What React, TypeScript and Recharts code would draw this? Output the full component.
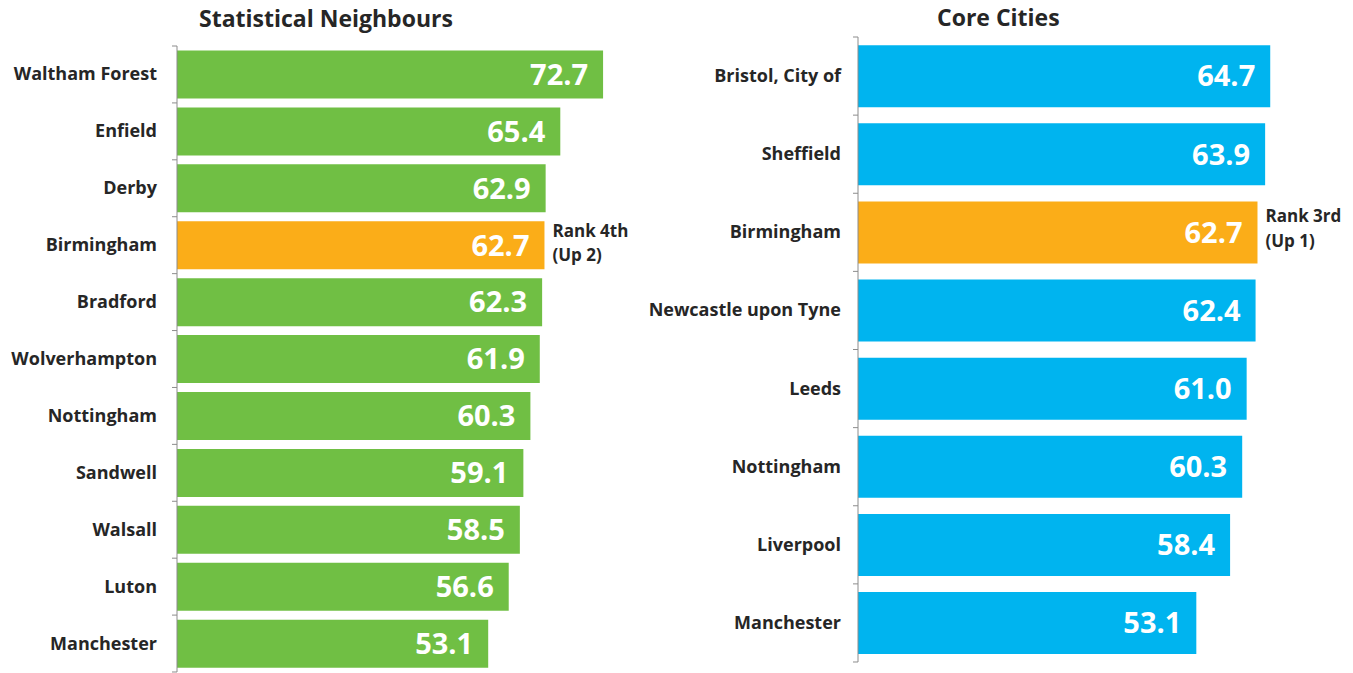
import { BarChart, Bar, XAxis, YAxis, Cell, LabelList } from "recharts";

const neighbourNames = [
  "Waltham Forest",
  "Enfield",
  "Derby",
  "Birmingham",
  "Bradford",
  "Wolverhampton",
  "Nottingham",
  "Sandwell",
  "Walsall",
  "Luton",
  "Manchester",
];
const neighbourValues = [72.7, 65.4, 62.9, 62.7, 62.3, 61.9, 60.3, 59.1, 58.5, 56.6, 53.1];

const coreNames = [
  "Bristol, City of",
  "Sheffield",
  "Birmingham",
  "Newcastle upon Tyne",
  "Leeds",
  "Nottingham",
  "Liverpool",
  "Manchester",
];
const coreValues = [64.7, 63.9, 62.7, 62.4, 61.0, 60.3, 58.4, 53.1];

const highlight = "Birmingham";
const neighbourNote = ["Rank 4th", "(Up 2)"];
const coreNote = ["Rank 3rd", "(Up 1)"];

const GREEN = "#70bf44";
const BLUE = "#00b4ef";
const ORANGE = "#fbad18";
const FONT = "'Open Sans', sans-serif";

const neighbourData = neighbourNames.map((name, i) => ({ name, value: neighbourValues[i] }));
const coreData = coreNames.map((name, i) => ({ name, value: coreValues[i] }));

const makeTick = (band: number, gap: number, count: number) => (props: any) => {
  const { x, y, payload, index } = props;
  const axisX = x + gap;
  return (
    <g>
      <line x1={axisX - 5} x2={axisX} y1={y - band / 2} y2={y - band / 2} stroke="#8c8c8c" />
      {index === count - 1 && (
        <line x1={axisX - 5} x2={axisX} y1={y + band / 2} y2={y + band / 2} stroke="#8c8c8c" />
      )}
      <text x={x} y={y} dy={6} textAnchor="end" fontFamily={FONT} fontWeight={700} fontSize={18} fill="#262626">
        {payload.value}
      </text>
    </g>
  );
};

// two-line rank note to the right of the highlighted bar
const makeNote = (note: string[], dy: number, lineGap: number, data: any[]) => (props: any) => {
  const { x, y, width, height, index } = props;
  if (data[index].name !== highlight) return null;
  const tx = x + width + 8;
  return (
    <text x={tx} y={y + height / 2 + dy} fontFamily={FONT} fontWeight={700} fontSize={17} fill="#262626">
      <tspan x={tx}>{note[0]}</tspan>
      <tspan x={tx} dy={lineGap}>{note[1]}</tspan>
    </text>
  );
};

const valueLabel = {
  position: "insideRight" as const,
  offset: 15,
  fill: "#fff",
  fontSize: 29,
  fontWeight: 700,
  fontFamily: FONT,
};

export default function App() {
  return (
    <div style={{ position: "absolute", left: 0, top: 0, width: 1353, height: 673, background: "#fff", overflow: "hidden" }}>
      <svg width={1353} height={40} style={{ position: "absolute", left: 0, top: 0 }}>
        <text x={199} y={27} fontFamily={FONT} fontWeight={700} fontSize={23} fill="#262626">
          Statistical Neighbours
        </text>
        <text x={937} y={26} fontFamily={FONT} fontWeight={700} fontSize={23} fill="#262626">
          Core Cities
        </text>
      </svg>

      <div style={{ position: "absolute", left: 0, top: 0 }}>
        <BarChart
          width={640}
          height={673}
          layout="vertical"
          data={neighbourData}
          margin={{ top: 46, right: 0, bottom: 1, left: 0 }}
          barCategoryGap="8%"
        >
          <XAxis type="number" domain={[0, 79]} hide />
          <YAxis
            type="category"
            dataKey="name"
            width={177}
            tickLine={false}
            tickMargin={14}
            axisLine={{ stroke: "#8c8c8c" }}
            tick={makeTick(56.9, 20, neighbourData.length)}
            interval={0}
          />
          <Bar dataKey="value" isAnimationActive={false}>
            {neighbourData.map((d) => (
              <Cell key={d.name} fill={d.name === highlight ? ORANGE : GREEN} />
            ))}
            <LabelList dataKey="value" {...valueLabel} formatter={(v: any) => Number(v).toFixed(1)} />
            <LabelList dataKey="value" content={makeNote(neighbourNote, -8, 24, neighbourData)} />
          </Bar>
        </BarChart>
      </div>

      <div style={{ position: "absolute", left: 640, top: 0 }}>
        <BarChart
          width={713}
          height={673}
          layout="vertical"
          data={coreData}
          margin={{ top: 37, right: 49, bottom: 11, left: 0 }}
          barCategoryGap="10.5%"
        >
          <XAxis type="number" domain={[0, 70]} hide />
          <YAxis
            type="category"
            dataKey="name"
            width={218}
            tickLine={false}
            tickMargin={11}
            axisLine={{ stroke: "#8c8c8c" }}
            tick={makeTick(78.1, 17, coreData.length)}
            interval={0}
          />
          <Bar dataKey="value" isAnimationActive={false}>
            {coreData.map((d) => (
              <Cell key={d.name} fill={d.name === highlight ? ORANGE : BLUE} />
            ))}
            <LabelList dataKey="value" {...valueLabel} formatter={(v: any) => Number(v).toFixed(1)} />
            <LabelList dataKey="value" content={makeNote(coreNote, -10, 25, coreData)} />
          </Bar>
        </BarChart>
      </div>
    </div>
  );
}
